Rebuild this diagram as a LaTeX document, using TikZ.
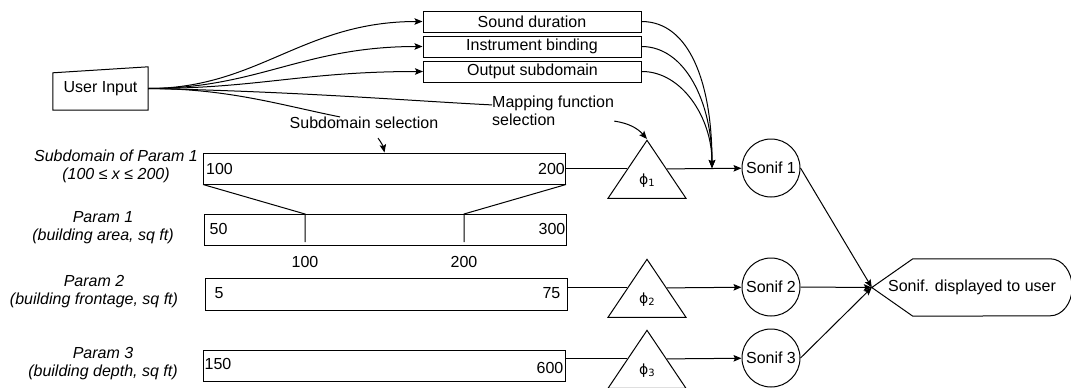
\documentclass[tikz,border=0pt]{standalone}
\usepackage{fontspec}
\setmainfont{Liberation Sans}
\newfontfamily\greekfont{DejaVu Sans}
\usetikzlibrary{arrows.meta,shapes.geometric,calc}
\begin{document}
\begin{tikzpicture}[x=1pt,y=-1pt,
  every node/.style={font=\fontsize{16}{18}\selectfont, inner sep=0pt},
  line/.style={line width=1pt, black},
  arr/.style={line, -{Stealth[length=8pt,width=6.5pt,inset=1.5pt]}},
  optbox/.style={draw, line width=1pt, minimum width=218pt, minimum height=21pt},
  rangebox/.style={draw, line width=1pt, minimum width=362pt, minimum height=31pt},
  paramlbl/.style={align=center, font=\fontsize{16}{18}\selectfont\itshape},
  sonif/.style={draw, circle, line width=1pt, minimum size=58pt},
  mapfn/.style={draw, isosceles triangle, isosceles triangle stretches,
    shape border rotate=90, minimum width=78pt, minimum height=58pt,
    line width=1pt, anchor=apex},
  philbl/.style={font=\fontsize{14}{14}\selectfont\greekfont},
]
\useasboundingbox (0,0) rectangle (1071,388);

% user input (manual input shape)
\node (ui) at (100.5,88.5) [minimum width=95pt, minimum height=43pt] {User Input};
\draw[line] (ui.south west) -- (ui.south east) -- (ui.north east)
  -- ([yshift=-6pt]ui.north west) -- cycle;

% option boxes
\node[optbox] (sd) at (532,21.5) {Sound duration};
\node[optbox] (ib) at (532,46.5) {Instrument binding};
\node[optbox] (os) at (532.5,71.5) {Output subdomain};

% selection labels
\node (ssel) at (364,123) {Subdomain selection};
\node (mfs) [anchor=west, align=left] at (492,111) {Mapping function\\selection};

% range boxes
\node[rangebox,
  label={[anchor=west,xshift=3pt]west:100},
  label={[anchor=east,xshift=-1pt]east:200}] (sub) at (384.5,168.5) {};
\node[rangebox,
  label={[anchor=west,xshift=6pt,yshift=1pt]west:50},
  label={[anchor=east,xshift=-1pt,yshift=1pt]east:300}] (p1) at (385,229.5) {};
\node[rangebox, minimum height=32pt,
  label={[anchor=west,xshift=10pt,yshift=1pt]west:5},
  label={[anchor=east,xshift=-7pt,yshift=1pt]east:75}] (p2) at (386,294) {};
\node[rangebox,
  label={[anchor=west,xshift=2pt,yshift=1.5pt]west:150},
  label={[anchor=east,xshift=-2pt,yshift=-2.5pt]east:600}] (p3) at (384,365.5) {};

% parameter labels
\node[paramlbl] (lsub) at (116,166) {Subdomain of Param 1\\(100 ≤ x ≤ 200)};
\node[paramlbl] (lp1) at (103,227.5) {Param 1\\(building area, sq ft)};
\node[paramlbl] (lp2) at (94,292) {Param 2\\(building frontage, sq ft)};
\node[paramlbl] (lp3) at (103,363.5) {Param 3\\(building depth, sq ft)};

% zoom of the subdomain onto param 1
\coordinate (k1) at (305,214);
\coordinate (k2) at (464,214);
\draw[line] (sub.south west) -- (k1) -- ++(0,28);
\draw[line] (sub.south east) -- (k2) -- ++(0,28);
\node (n100) at (305,262) {100};
\node (n200) at (464,262) {200};

% mapping functions (apex given, side midpoints sit on the signal line)
\node[mapfn] (t1) at (647,139) {};
\node[mapfn] (t2) at (647,258) {};
\node[mapfn] (t3) at (647,329) {};
\node[philbl] (f1) at ([yshift=-12pt]t1.left side -| t1.apex) {ϕ\raisebox{-2pt}{\fontsize{10}{10}\selectfont 1}};
\node[philbl] (f2) at ([yshift=-12pt]t2.left side -| t2.apex) {ϕ\raisebox{-2pt}{\fontsize{10}{10}\selectfont 2}};
\node[philbl] (f3) at ([yshift=-12pt]t3.left side -| t3.apex) {ϕ\raisebox{-2pt}{\fontsize{10}{10}\selectfont 3}};

% sonifications
\node[sonif] (s1) at (771,168) {Sonif 1};
\node[sonif] (s2) at (771,287) {Sonif 2};
\node[sonif] (s3) at (771,358) {Sonif 3};

% display shape
\node (disp) at (972,287.5) [minimum width=200pt, minimum height=57pt] {Sonif. displayed to user};
\draw[line] (disp.west) -- ([xshift=41pt]disp.north west) -- ([xshift=-22pt]disp.north east)
  arc[start angle=90, end angle=-90, x radius=22pt, y radius=28.5pt]
  -- ([xshift=41pt]disp.south west) -- cycle;

% user input fan-out
\draw[arr] (ui.east) .. controls +(110,0) and +(-120,0) .. (sd.west);
\draw[arr] (ui.east) .. controls +(110,0) and +(-120,0) .. (ib.west);
\draw[arr] (ui.east) .. controls +(110,0) and +(-120,0) .. (os.west);
\draw[line] (ui.east) .. controls +(150,3) and +(-80,-4) .. ([yshift=-9pt]mfs.north west);
\draw[line] (ui.east) .. controls +(80,0) and +(-60,-12) .. ([xshift=-24pt]ssel.north);

% selection pointers
\draw[arr] ([shift={(14pt,-9pt)}]ssel.south) to[bend left=12] (sub.north);
\draw[arr] ([yshift=5pt]mfs.south east) to[bend left=20] (t1.apex);

% options merging into sonif 1
\coordinate (m) at (712,168);
\draw[arr] (sd.east) .. controls +(48,0) and +(0,-85) .. (m);
\draw[arr] (ib.east) .. controls +(44,0) and +(0,-65) .. (m);
\draw[arr] (os.east) .. controls +(40,0) and +(0,-50) .. (m);

% data flow
\draw[line] (t1.left side -| sub.east) -- (t1.left side);
\draw[line] (t2.left side -| p2.east) -- (t2.left side);
\draw[line] (t3.left side -| p3.east) -- (t3.left side);
\draw[arr] (t1.right side) -- (s1);
\draw[arr] (t2.right side) -- (s2);
\draw[arr] (t3.right side) -- (s3);
\draw[arr] (s1.east) -- (disp.west);
\draw[arr] (s2.east) -- (disp.west);
\draw[arr] (s3.east) -- (disp.west);
\end{tikzpicture}
\end{document}
